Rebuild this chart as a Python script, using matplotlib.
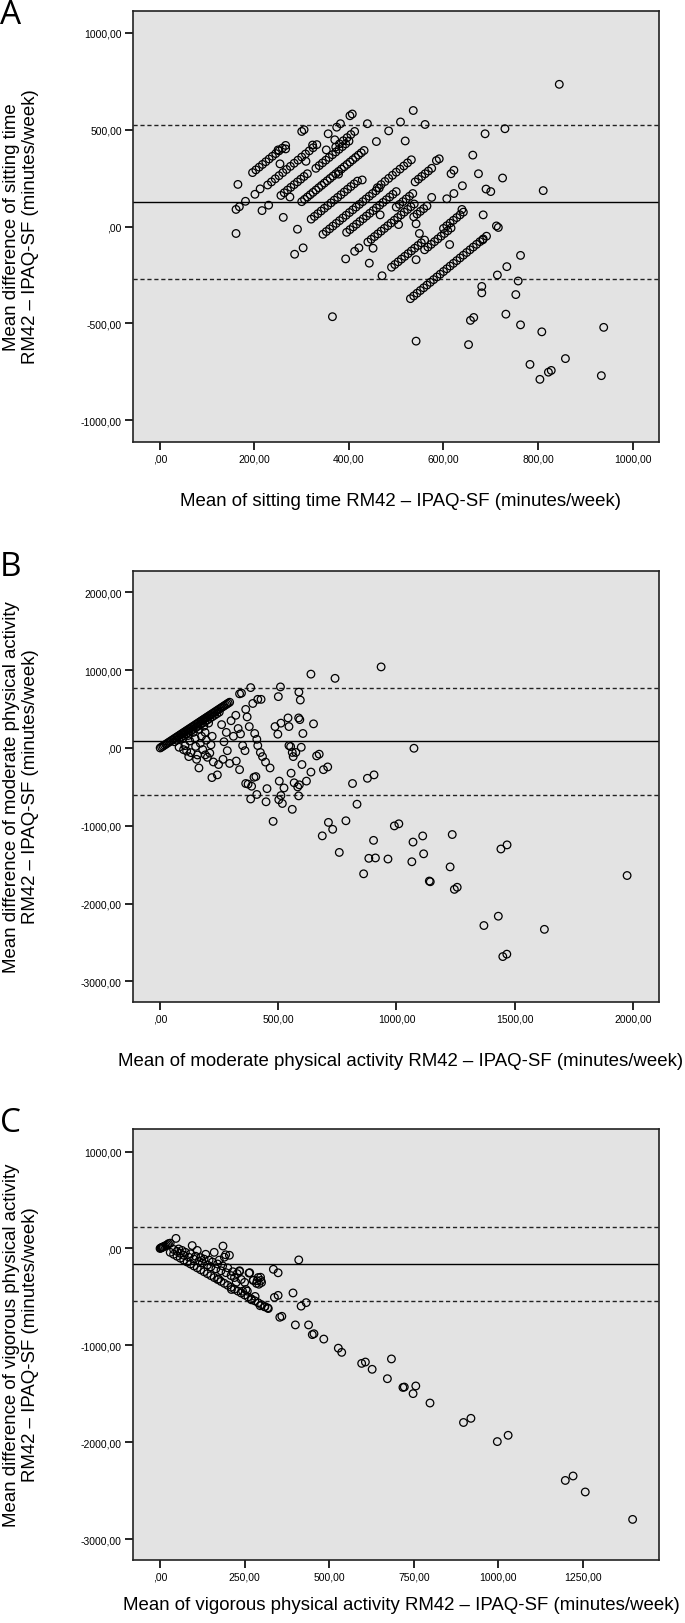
# bland_altman.py

import numpy as np
import matplotlib
matplotlib.use('Agg')
import matplotlib.pyplot as plt
from matplotlib.ticker import FuncFormatter

plt.rcParams['font.family'] = ['Liberation Sans', 'DejaVu Sans']

################
#  A: sitting  #
################

# streaks (mean, difference)
sitA_x = [196, 203, 210, 217, 224, 231, 238, 245, 252, 259, 266,
          228, 236, 244, 252, 260, 268, 276, 284, 292, 300, 308, 316, 324, 332,
          256, 263, 270, 277, 284, 291, 298, 305, 312,
          300, 306, 312, 318, 324, 330, 336, 342, 348, 354, 360, 366, 372, 378, 384, 390, 396, 402, 408, 414, 420, 426, 432,
          320, 327, 334, 341, 348, 355, 362, 369, 376, 383, 390, 397, 404, 411, 418,
          345, 352, 359, 366, 373, 380, 387, 394, 401, 408, 415, 422, 429, 436, 443, 450, 457, 464,
          395, 402, 409, 416, 423, 430, 437, 444, 451, 458, 465, 472, 479, 486, 493, 500,
          440, 447, 454, 461, 468, 475, 482, 489, 496, 503, 510, 517, 524, 531, 538,
          490, 497, 504, 511, 518, 525, 532, 539, 546, 553, 560,
          530, 537, 544, 551, 558, 565, 572, 579, 586, 593, 600, 607, 614, 621, 628, 635, 642, 649, 656, 663, 670, 677, 684, 691,
          560, 567, 574, 581, 588, 595, 602, 609, 616,
          600, 607, 614, 621, 628, 635, 642,
          500, 507, 514, 521, 528, 535,
          537, 544, 551, 558, 565,
          460, 468, 476, 484, 492, 500, 508, 516, 524, 532,
          372, 380, 388, 396, 404, 412,
          330, 337, 344, 351, 358, 365, 372, 379, 386, 393, 400,
          540, 547, 554, 561, 568, 575]
sitA_y = [278, 292, 306, 320, 334, 348, 362, 376, 390, 404, 418,
          214, 230, 246, 262, 278, 294, 310, 326, 342, 358, 374, 390, 406, 422,
          160, 174, 188, 202, 216, 230, 244, 258, 272,
          128, 140, 152, 164, 176, 188, 200, 212, 224, 236, 248, 260, 272, 284, 296, 308, 320, 332, 344, 356, 368, 380, 392,
          38, 52, 66, 80, 94, 108, 122, 136, 150, 164, 178, 192, 206, 220, 234,
          -40, -26, -12, 2, 16, 30, 44, 58, 72, 86, 100, 114, 128, 142, 156, 170, 184, 198,
          -30, -16, -2, 12, 26, 40, 54, 68, 82, 96, 110, 124, 138, 152, 166, 180,
          -80, -66, -52, -38, -24, -10, 4, 18, 32, 46, 60, 74, 88, 102, 116,
          -210, -196, -182, -168, -154, -140, -126, -112, -98, -84, -70,
          -372, -358, -344, -330, -316, -302, -288, -274, -260, -246, -232, -218, -204, -190, -176, -162, -148, -134, -120, -106, -92, -78, -64, -50,
          -120, -106, -92, -78, -64, -50, -36, -22, -8,
          -10, 4, 18, 32, 46, 60, 74,
          100, 114, 128, 142, 156, 170,
          50, 64, 78, 92, 106,
          200, 216, 232, 248, 264, 280, 296, 312, 328, 344,
          410, 426, 442, 458, 474, 490,
          300, 314, 328, 342, 356, 370, 384, 398, 412, 426, 440,
          230, 244, 258, 272, 286, 300]

# scattered points
sitA_sx = [161, 161, 165, 168, 181, 201, 212, 216, 230, 261, 275, 291, 285, 303, 300, 305,
           356, 370, 382, 374, 402, 407, 439, 458, 484, 509, 519, 536, 561, 730, 688, 845,
           811, 725, 674, 662, 591, 616, 622, 607, 622, 639, 690, 712, 716, 684, 683, 613,
           365, 542, 653, 657, 664, 681, 681, 714, 734, 763, 758, 753, 732, 763, 808, 783,
           804, 822, 828, 858, 934, 939, 470, 443, 393, 412, 421, 451, 542, 549, 542, 266, 250,
           254, 309, 323, 352, 378, 428, 466, 505, 575, 585, 640, 700]
sitA_sy = [-36, 88, 217, 102, 130, 166, 194, 82, 110, 47, 152, -14, -143, -110, 490, 499,
           478, 447, 530, 512, 571, 580, 530, 438, 493, 539, 441, 598, 526, 504, 478, 733,
           185, 250, 272, 368, 349, 272, 290, 143, 170, 88, 193, 3, -5, 60, -69, -93,
           -465, -591, -609, -484, -469, -309, -342, -250, -207, -149, -281, -351, -452, -507, -543, -711,
           -788, -751, -742, -681, -769, -520, -254, -189, -167, -128, -110, -112, -171, -36, 14, 400, 395,
           323, 336, 420, 395, 270, 240, 60, 10, 150, 340, 210, 180]

sitA_mean = 128
sitA_upper = 521
sitA_lower = -270

#################
#  B: moderate  #
#################

modB_x = [0, 6, 12, 18, 24, 30, 36, 42, 48, 54, 60, 66, 72, 78, 84, 90, 96, 102, 108, 114,
          120, 126, 132, 138, 144, 150, 156, 162, 168, 174, 180, 186, 192, 198, 204, 210,
          216, 222, 228, 234, 240, 246, 252, 258, 264, 270, 276, 282, 288, 294,
          60, 70, 80, 90, 100, 110, 120, 130, 140, 150, 160, 170, 180, 190, 200, 210, 220, 230, 240, 250,
          80, 99, 121, 154, 164, 219, 242, 191, 210, 247, 266, 284, 294, 322, 336, 349, 359,
          336, 344, 383, 392, 413, 427, 362, 368, 377, 400, 409, 413, 424, 433,
          362, 372, 387, 397, 405, 383, 409, 446, 465, 452, 448, 478, 486, 498, 500, 509,
          511, 504, 502, 517, 511, 524, 541, 545, 545, 552, 554, 559, 563, 559, 567, 574,
          582, 586, 591, 587, 593, 597, 600, 586, 589, 604, 619, 638, 638, 649, 662, 673,
          691, 709, 740, 686, 712, 730, 758, 786, 814, 833, 861, 877, 883, 903, 905, 911,
          935, 964, 991, 1010, 1065, 1070, 1074, 1111, 1115, 1139, 1143, 1227, 1236, 1245,
          1257, 1370, 1431, 1442, 1450, 1467, 1468, 1626, 1976,
          95, 105, 112, 118, 125, 130, 140, 148, 150, 158, 165, 170, 175, 180, 185, 190,
          195, 200, 205, 215, 220, 225, 260, 270, 280, 300, 310, 320, 330, 340]
modB_y = [0, 12, 24, 36, 48, 60, 72, 84, 96, 108, 120, 132, 144, 156, 168, 180, 192, 204, 216, 228,
          240, 252, 264, 276, 288, 300, 312, 324, 336, 348, 360, 372, 384, 396, 408, 420,
          432, 444, 456, 468, 480, 492, 504, 516, 528, 540, 552, 564, 576, 588,
          80, 100, 120, 140, 160, 180, 200, 220, 240, 260, 280, 300, 320, 340, 360, 380, 400, 420, 440, 460,
          9, -22, -111, -146, -257, -381, -346, -89, -66, -213, -146, -35, -199, -168, -279, 31, -35,
          696, 705, 776, 572, 625, 625, 496, 399, 275, 186, 111, 31, -58, -111,
          -457, -465, -492, -377, -368, -656, -598, -182, -257, -523, -692, -944, 275, 177, 660, 785,
          319, -426, -665, -714, -612, -514, 386, 275, 31, 18, -324, -58, -111, -789, -448, -58,
          -501, 386, 364, 718, 616, 9, -213, -616, -474, 186, -426, 949, -310, 310, -102, -80,
          -279, -244, 895, -1130, -957, -1046, -1343, -936, -457, -723, -1618, -390, -1419, -1188, -346, -1414,
          1042, -1428, -1002, -975, -1463, -1210, -4, -1131, -1361, -1711, -1720, -1529, -1113, -1818,
          -1791, -2283, -2163, -1299, -2682, -2651, -1246, -2332, -1640,
          120, 30, -40, 160, 90, -60, 200, 120, 20, -90, 240, 60, 150, -20, 280, 200,
          100, -120, 320, 40, 150, -180, 300, 80, 200, 350, 150, 420, 250, 180]

modB_mean = 89
modB_upper = 771
modB_lower = -603

#################
#  C: vigorous  #
#################

vigC_x = [0, 2, 4, 6, 8, 10, 14, 18, 22, 25, 30, 47,
          30, 40, 50, 60, 70, 80, 90, 100, 110, 120, 130, 140, 150, 160, 170, 180, 190, 200,
          210, 220, 230, 240, 250, 260, 270, 280, 290, 300, 310, 320,
          40, 50, 55, 60, 65, 70, 75, 85, 90, 95, 100, 105, 110, 115, 120, 125, 130, 135,
          140, 145, 150, 155, 160, 165, 170, 175, 180, 185, 190, 195, 200, 205, 210, 215,
          220, 228, 235, 240, 250, 258, 265, 275, 285, 290, 298, 186, 194,
          410, 335, 349, 393, 417, 432, 349, 338, 263, 276, 287, 297, 292, 300, 281, 270,
          296, 309, 318, 235, 173, 225, 211, 254, 244,
          354, 360, 400, 439, 450, 455, 484, 527, 537, 596, 607, 627, 684, 672, 718, 722,
          748, 756, 798, 897, 919, 997, 1029, 1198, 1221, 1257, 1397]
vigC_y = [0, 4, 8, 12, 14, 18, 25, 32, 40, 50, 55, 104,
          -40, -60, -80, -100, -120, -140, -160, -180, -200, -220, -240, -260, -280, -300, -320, -340, -360, -380,
          -400, -420, -440, -460, -480, -500, -520, -540, -560, -580, -600, -620,
          -10, -30, -5, -50, -20, -70, -40, -90, -55, 30, -110, -80, -20, -130, -95, -150, -110, -60,
          -170, -120, -190, -140, -40, -210, -160, -120, -230, -180, -90, -250, -200, -70, -280, -240,
          -300, -260, -230, -320, -350, -440, -250, -330, -360, -300, -330, 25, -65,
          -118, -215, -251, -459, -595, -559, -484, -505, -254, -326, -333, -297, -369, -351, -495, -530,
          -591, -602, -613, -237, -315, -351, -423, -423, -441,
          -710, -700, -789, -789, -889, -880, -935, -1029, -1072, -1186, -1172, -1247, -1140, -1344, -1434, -1430,
          -1498, -1419, -1595, -1796, -1753, -1993, -1928, -2394, -2348, -2513, -2796]

vigC_mean = -158
vigC_upper = 222
vigC_lower = -538


def comma_fmt(v, pos):
    if v == 0:
        return ',00'
    return ('%.2f' % v).replace('.', ',')


def panel(ax, xs, ys, mean, upper, lower, xticks, yticks, xlim, ylim):
    ax.set_facecolor('#e3e3e3')
    ax.scatter(xs, ys, s=30, facecolors='none', edgecolors='black', linewidths=0.9, zorder=3)
    ax.axhline(mean, color='black', lw=1.0, zorder=2)
    ax.axhline(upper, color='#222222', lw=1.0, dashes=(3, 2), zorder=2)
    ax.axhline(lower, color='#222222', lw=1.0, dashes=(3, 2), zorder=2)
    ax.set_xlim(xlim)
    ax.set_ylim(ylim)
    ax.set_xticks(xticks)
    ax.set_yticks(yticks)
    ax.xaxis.set_major_formatter(FuncFormatter(comma_fmt))
    ax.yaxis.set_major_formatter(FuncFormatter(comma_fmt))
    ax.tick_params(direction='out', length=6, width=1.2, labelsize=7.5, pad=2,
                   top=False, right=False)
    for s in ax.spines.values():
        s.set_linewidth(1.2)
        s.set_color('#222222')


W, H = 685.0, 1624.0
fig = plt.figure(figsize=(6.85, 16.24), dpi=100)

axA = fig.add_axes([133 / W, 1 - 443 / H, 526 / W, 431 / H])
panel(axA, sitA_x + sitA_sx, sitA_y + sitA_sy, sitA_mean, sitA_upper, sitA_lower,
      [0, 200, 400, 600, 800, 1000], [-1000, -500, 0, 500, 1000],
      (-57, 1056), (-1111, 1111))

axB = fig.add_axes([133 / W, 1 - 1003 / H, 526 / W, 431 / H])
panel(axB, modB_x, modB_y, modB_mean, modB_upper, modB_lower,
      [0, 500, 1000, 1500, 2000], [-3000, -2000, -1000, 0, 1000, 2000],
      (-115, 2111), (-3266, 2275))

axC = fig.add_axes([133 / W, 1 - 1561 / H, 526 / W, 431 / H])
panel(axC, vigC_x, vigC_y, vigC_mean, vigC_upper, vigC_lower,
      [0, 250, 500, 750, 1000, 1250], [-3000, -2000, -1000, 0, 1000],
      (-80, 1475), (-3215, 1233))

# labels
ylabels = ['Mean difference of sitting time\nRM42 \u2013 IPAQ-SF (minutes/week)',
           'Mean difference of moderate physical activity\nRM42 \u2013 IPAQ-SF (minutes/week)',
           'Mean difference of vigorous physical activity\nRM42 \u2013 IPAQ-SF (minutes/week)']
xlabels = ['Mean of sitting time RM42 \u2013 IPAQ-SF (minutes/week)',
           'Mean of moderate physical activity RM42 \u2013 IPAQ-SF (minutes/week)',
           'Mean of vigorous physical activity RM42 \u2013 IPAQ-SF (minutes/week)']
letters = ['A', 'B', 'C']
letter_y = [15, 567, 1124]
xlabel_y = [502, 1062, 1606]
ax_mid = [227, 787, 1345]

for i in range(3):
    fig.text(21 / W, 1 - ax_mid[i] / H, ylabels[i], rotation=90, ha='center', va='center',
             multialignment='center', fontsize=13.4, linespacing=1.2)
    fig.text(401 / W, 1 - xlabel_y[i] / H, xlabels[i], ha='center', va='center', fontsize=13.4)
    fig.text(0.0, 1 - letter_y[i] / H, letters[i], ha='left', va='center', fontsize=24,
             family=['Open Sans', 'DejaVu Sans'])

plt.savefig('out.png', dpi=100)
